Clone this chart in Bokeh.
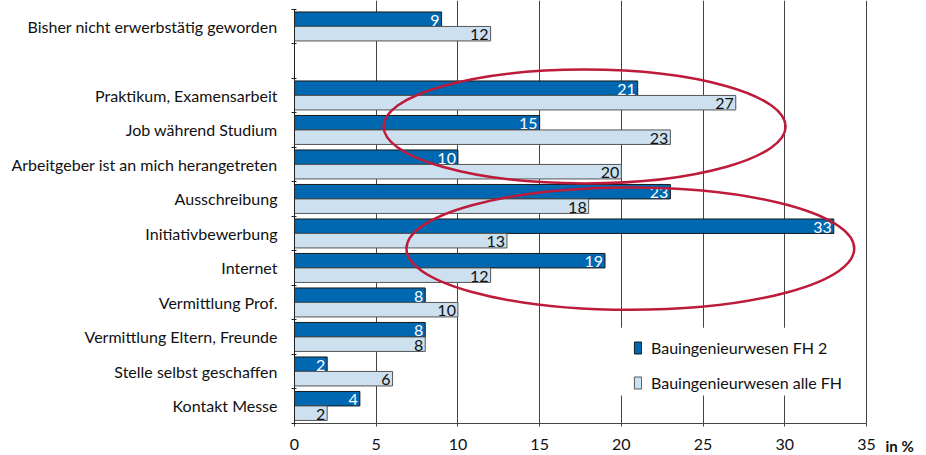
from bokeh.plotting import figure
from bokeh.models import (ColumnDataSource, FixedTicker, Legend, LegendItem,
                          Label, BoxAnnotation, Range1d)
from bokeh.core.properties import value
from bokeh.embed import file_html
from bokeh.resources import INLINE

# ---- data (top to bottom as in the chart; None marks the empty spacer row)
categories = [
    "Bisher nicht erwerbstätig geworden",
    None,
    "Praktikum, Examensarbeit",
    "Job während Studium",
    "Arbeitgeber ist an mich herangetreten",
    "Ausschreibung",
    "Initiativbewerbung",
    "Internet",
    "Vermittlung Prof.",
    "Vermittlung Eltern, Freunde",
    "Stelle selbst geschaffen",
    "Kontakt Messe",
]
fh2 = [9, None, 21, 15, 10, 23, 33, 19, 8, 8, 2, 4]
alle_fh = [12, None, 27, 23, 20, 18, 13, 12, 10, 8, 6, 2]
series_names = ["Bauingenieurwesen FH 2", "Bauingenieurwesen alle FH"]
x_ticks = [0, 5, 10, 15, 20, 25, 30, 35]
unit_label = "in %"

# highlighted groups (ellipses): center x, center y (row index), width, height
ellipses_x = [17.75, 20.55]
ellipses_y = [8.1, 4.56]
ellipses_w = [24.6, 27.4]
ellipses_h = [3.3, 3.55]

FONT = "Lato"
BLUE = "#0067B1"
LIGHT = "#CCE0EF"

W, H = 926, 455
PLOT_LEFT, PLOT_RIGHT = 294, 866     # pixel position of value 0 and 35
PLOT_BOTTOM, ROW_PX = 422.7, 34.5    # pixel position of bottom row edge, row height

n = len(categories)
rows = [n - 1 - i for i in range(n)]  # y position of each row (top = highest)
x_max = x_ticks[-1]
px_x = (PLOT_RIGHT - PLOT_LEFT) / x_max

def src(vals, offset):
    ys, xs, lab = [], [], []
    for r, v in zip(rows, vals):
        if v is None:
            continue
        ys.append(r + offset)
        xs.append(v)
        lab.append(str(v))
    return ColumnDataSource(dict(y=ys, x=xs, label=lab))

s1 = src(fh2, 0.21)
s2 = src(alle_fh, -0.21)

# the frame covers the whole canvas; axes are drawn at fixed locations
x_range = Range1d(-PLOT_LEFT / px_x, (W - PLOT_LEFT) / px_x)
y_range = Range1d(-0.5 - (H - PLOT_BOTTOM) / ROW_PX, -0.5 + PLOT_BOTTOM / ROW_PX)

p = figure(width=W, height=H, output_backend="svg", toolbar_location=None,
           x_range=x_range, y_range=y_range,
           min_border_left=0, min_border_right=0, min_border_top=0,
           min_border_bottom=0)
p.outline_line_color = None
p.background_fill_color = "white"
p.border_fill_color = "white"

r1 = p.hbar(y="y", right="x", left=0, height=0.42, source=s1,
            fill_color=BLUE, line_color="#1a1a1a", line_width=1)
r2 = p.hbar(y="y", right="x", left=0, height=0.42, source=s2,
            fill_color=LIGHT, line_color="#555555", line_width=1)

p.text(x="x", y="y", text="label", source=s1, text_align="right",
       text_baseline="middle", x_offset=-2, y_offset=1, text_color="white",
       text_font=value(FONT), text_font_size="16px")
p.text(x="x", y="y", text="label", source=s2, text_align="right",
       text_baseline="middle", x_offset=-2, y_offset=1, text_color="#111111",
       text_font=value(FONT), text_font_size="16px")

p.ellipse(x=ellipses_x, y=ellipses_y, width=ellipses_w, height=ellipses_h,
          fill_color=None, line_color="#BE1A3A", line_width=2.5)

# grid
p.ygrid.visible = False
p.xgrid.ticker = FixedTicker(ticks=x_ticks[1:])
p.xgrid.grid_line_color = "#444444"
p.xgrid.grid_line_width = 1

# mask grid lines below the value axis
p.add_layout(BoxAnnotation(top=-0.5, fill_color="white", fill_alpha=1,
                           line_color=None, level="glyph"))

# x axis, drawn at the bottom of the category rows
p.xaxis.ticker = FixedTicker(ticks=x_ticks)
p.xaxis.fixed_location = -0.5
p.xaxis.bounds = (0, x_max)
p.xaxis.axis_line_color = "#444444"
p.xaxis.major_tick_line_color = "#444444"
p.xaxis.major_tick_out = 3
p.xaxis.major_tick_in = 0
p.xaxis.minor_tick_line_color = None
p.xaxis.major_label_standoff = 13
p.xaxis.major_label_text_font = FONT
p.xaxis.major_label_text_font_size = "16px"
p.xaxis.major_label_text_color = "#111111"

# y axis with category labels, drawn at value 0
major = [r for r, c in zip(rows, categories) if c is not None]
p.yaxis.ticker = FixedTicker(ticks=major,
                             minor_ticks=[r + 0.5 for r in rows] + [-0.5])
p.yaxis.fixed_location = 0
p.yaxis.major_label_overrides = {r: c for r, c in zip(rows, categories) if c is not None}
p.yaxis.major_tick_out = 0
p.yaxis.major_tick_in = 0
p.yaxis.minor_tick_out = 3
p.yaxis.minor_tick_in = 2
p.yaxis.minor_tick_line_color = "#222222"
p.yaxis.axis_line_color = "#222222"
p.yaxis.bounds = (-0.5, n - 0.5)
p.yaxis.major_label_standoff = 14
p.yaxis.major_label_text_font = FONT
p.yaxis.major_label_text_font_size = "16px"
p.yaxis.major_label_text_color = "#111111"

# white box behind legend
p.add_layout(BoxAnnotation(left=19.46, right=34.76, top=2.27, bottom=0.30,
                           fill_color="white", fill_alpha=1, line_color=None,
                           level="annotation"))

legend = Legend(items=[LegendItem(label=series_names[0], renderers=[r1]),
                       LegendItem(label=series_names[1], renderers=[r2])],
                location=(633, 63), padding=0, margin=0, spacing=15,
                glyph_width=9, glyph_height=15, label_height=20,
                label_standoff=9, label_text_font=FONT,
                label_text_font_size="16px", label_text_color="#111111",
                background_fill_alpha=0, border_line_color=None)
p.add_layout(legend)

p.add_layout(Label(x=x_max, y=-0.5, x_offset=19, y_offset=-22.5,
                   text=unit_label, text_font=FONT, text_font_style="bold",
                   text_font_size="15px", text_baseline="middle",
                   text_color="#111111"))

open("out.html", "w").write(file_html(p, INLINE))
